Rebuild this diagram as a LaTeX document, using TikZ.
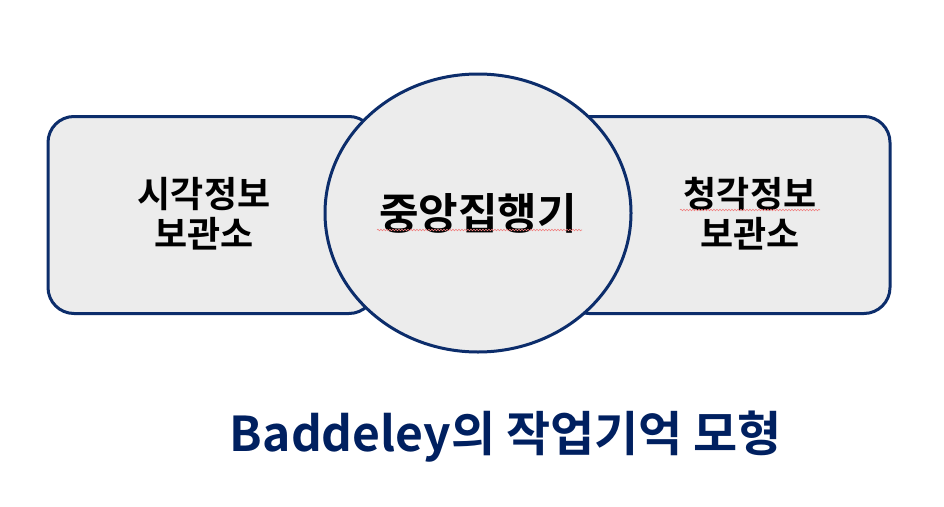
\documentclass[tikz,border=0pt]{standalone}
\usepackage{fontspec}
\setmainfont{Noto Sans CJK KR}[BoldFont={Noto Sans CJK KR Bold}]
\usetikzlibrary{shapes.geometric, decorations.pathmorphing}
\definecolor{memnavy}{HTML}{0C2D6B}
\definecolor{memgray}{HTML}{ECECEC}
\definecolor{titlenavy}{HTML}{002060}
\definecolor{spellred}{HTML}{F08080}

\begin{document}
\begin{tikzpicture}[
    x=1pt, y=-1pt,
    store/.style={draw=memnavy, line width=3pt, fill=memgray, rounded corners=26pt, minimum width=327pt, minimum height=197pt},
    hub/.style={ellipse, draw=memnavy, line width=3pt, fill=memgray, minimum width=306pt, minimum height=278pt, inner sep=0pt},
    label/.style={font=\fontsize{36}{40}\selectfont\bfseries, align=center},
    squiggle/.style={spellred, line width=0.6pt, decorate, decoration={snake, amplitude=0.8pt, segment length=3pt}},
]
    \useasboundingbox[fill=white] (0,0) rectangle (944,506);

    % Side stores
    \node[store] (visual) at (211.5, 215) {};
    \node[store] (audio) at (726.5, 215) {};
    \node[label] (visualtext) at (204, 214) {시각정보\\보관소};
    \node[label] (audiotext) at (750, 214) {청각정보\\보관소};

    % Central executive
    \node[hub, font=\fontsize{43}{48}\selectfont\bfseries] (exec) at (478, 213) {중앙집행기};

    % Spell-check marks
    \draw[squiggle] (377, 230) -- (582, 230);
    \draw[squiggle] (680, 210) -- (820, 210);

    % Caption
    \node[font=\fontsize{48}{54}\selectfont\bfseries, text=titlenavy] (title) at (506, 437) {Baddeley의 작업기억 모형};
\end{tikzpicture}
\end{document}
